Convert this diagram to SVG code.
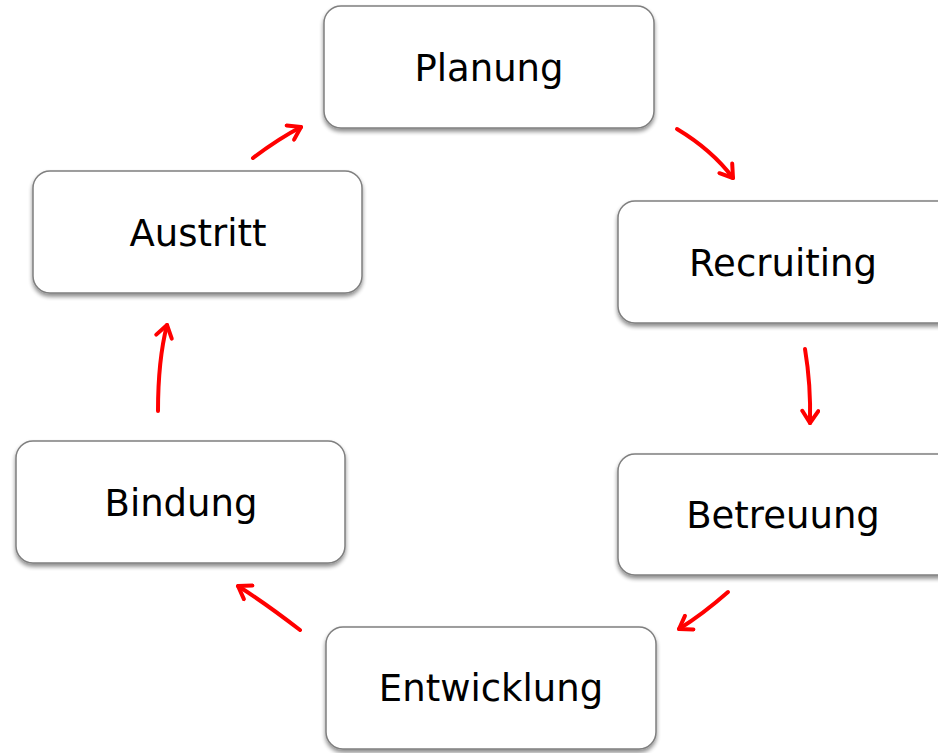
<svg xmlns="http://www.w3.org/2000/svg" width="938" height="753" viewBox="0 0 938 753">
<style>
.box{fill:#fff;stroke:#7f7f7f;stroke-width:1.5;filter:url(#sh)}
.lbl{font-family:"DejaVu Sans",Verdana,sans-serif;font-size:37px;fill:#000;text-anchor:middle}
.arr{fill:none;stroke:#ff0000;stroke-width:4;stroke-linecap:round;marker-end:url(#ah)}
</style>
<defs>
<filter id="sh" x="-10%" y="-10%" width="120%" height="130%">
<feGaussianBlur in="SourceAlpha" stdDeviation="2"/>
<feOffset dy="3" result="b"/>
<feComponentTransfer><feFuncA type="linear" slope="0.45"/></feComponentTransfer>
<feMerge><feMergeNode/><feMergeNode in="SourceGraphic"/></feMerge>
</filter>
<marker id="ah" viewBox="0 0 20 20" refX="16" refY="10" markerWidth="20" markerHeight="20" markerUnits="userSpaceOnUse" orient="auto">
<polyline points="4,2 16,10 4,18" fill="none" stroke="#ff0000" stroke-width="4" stroke-linecap="round" stroke-linejoin="round"/>
</marker>
</defs>
<g id="connectors">
<path class="arr" d="M677,129 Q712,150 733,178"/>
<path class="arr" d="M805,349 Q811,385 810,423"/>
<path class="arr" d="M728,592 Q703,614 679,629"/>
<path class="arr" d="M300,630 Q265,603 238,586"/>
<path class="arr" d="M158,411 Q158,360 167,325"/>
<path class="arr" d="M253,158 Q278,139 301,127"/>
</g>
<g id="planung"><rect class="box" x="324" y="6" width="330" height="122" rx="17"/><text class="lbl" x="489" y="81">Planung</text></g>
<g id="recruiting"><rect class="box" x="618" y="201" width="340" height="122" rx="17"/><text class="lbl" x="783" y="276">Recruiting</text></g>
<g id="betreuung"><rect class="box" x="618" y="454" width="340" height="121" rx="17"/><text class="lbl" x="783" y="528">Betreuung</text></g>
<g id="entwicklung"><rect class="box" x="326" y="627" width="330" height="122" rx="17"/><text class="lbl" x="491" y="701">Entwicklung</text></g>
<g id="bindung"><rect class="box" x="16" y="441" width="329" height="122" rx="17"/><text class="lbl" x="181" y="516">Bindung</text></g>
<g id="austritt"><rect class="box" x="33" y="171" width="329" height="122" rx="17"/><text class="lbl" x="198" y="246">Austritt</text></g>
</svg>
